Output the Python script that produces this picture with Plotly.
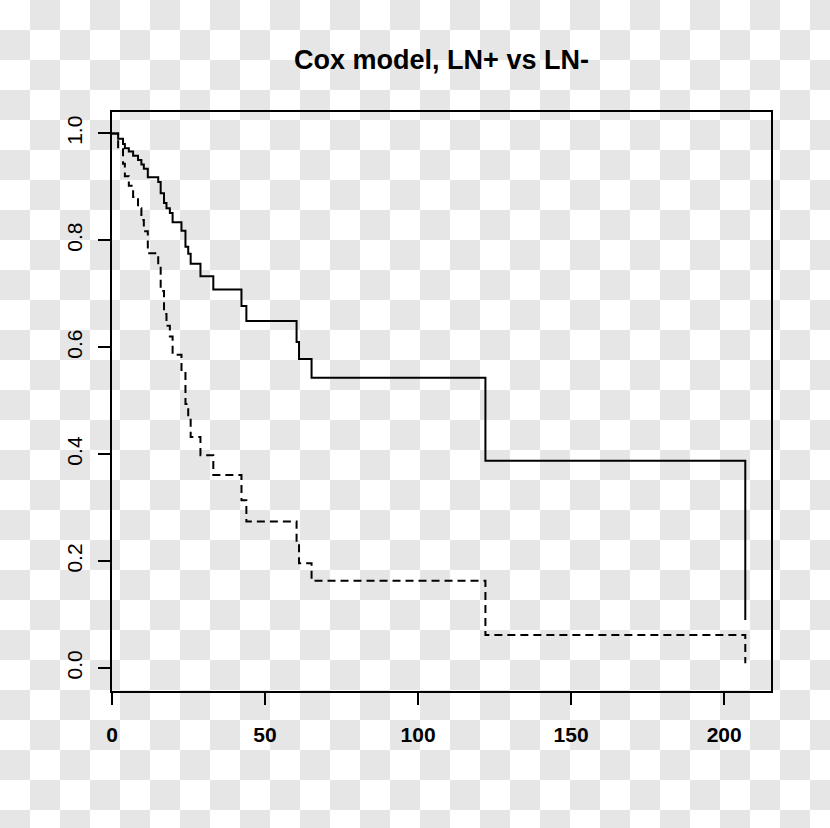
import base64
import plotly.graph_objects as go

# ---- data ----
event_times = [2.0, 3.6, 4.2, 5.5, 6.9, 8.5, 9.6, 10.4, 11.7, 15.1, 15.9, 17.0, 17.8, 18.9,
               19.8, 22.7, 24.0, 24.9, 25.7, 28.9, 33.1, 42.3, 43.9, 60.3, 61.1, 65.2,
               122.0, 206.9]
surv_solid = [0.99, 0.98, 0.972, 0.966, 0.958, 0.95, 0.942, 0.934, 0.918, 0.909, 0.888,
              0.870, 0.860, 0.851, 0.834, 0.818, 0.788, 0.775, 0.756, 0.733, 0.708, 0.677,
              0.649, 0.610, 0.578, 0.543, 0.3875, 0.0897]
surv_dashed = [0.972, 0.943, 0.92, 0.902, 0.881, 0.86, 0.838, 0.817, 0.776, 0.755, 0.705,
               0.662, 0.64, 0.62, 0.586, 0.555, 0.494, 0.47, 0.432, 0.398, 0.361, 0.314,
               0.274, 0.233, 0.196, 0.163, 0.0617, 0.0088]
x_ticks = [0, 50, 100, 150, 200]
y_ticks = [0.0, 0.2, 0.4, 0.6, 0.8, 1.0]
y_tick_labels = ["0.0", "0.2", "0.4", "0.6", "0.8", "1.0"]
title_text = "Cox model, LN+ vs LN-"

W, H = 830, 828
L, R, T, B = 112, 59, 112, 137
pw, ph = W - L - R, H - T - B

fig = go.Figure()
fig.add_trace(go.Scatter(x=[0] + event_times, y=[1.0] + surv_solid, mode="lines",
                         line=dict(color="black", width=2, shape="hv"),
                         name="LN-", showlegend=False))
fig.add_trace(go.Scatter(x=[0] + event_times, y=[1.0] + surv_dashed, mode="lines",
                         line=dict(color="black", width=2, shape="hv", dash="8px,5px"),
                         name="LN+", showlegend=False))

# checkerboard background (transparent-PNG look)
svg = ("<svg xmlns='http://www.w3.org/2000/svg' width='830' height='828'>"
       "<defs><pattern id='p' width='60' height='60' patternUnits='userSpaceOnUse'>"
       "<rect width='60' height='60' fill='#ffffff'/>"
       "<rect x='30' y='0' width='30' height='30' fill='#e6e6e6'/>"
       "<rect x='0' y='30' width='30' height='30' fill='#e6e6e6'/>"
       "</pattern></defs><rect width='830' height='828' fill='url(#p)'/></svg>")
uri = "data:image/svg+xml;base64," + base64.b64encode(svg.encode()).decode()

fig.update_layout(
    width=W, height=H,
    margin=dict(l=L, r=R, t=T, b=B),
    paper_bgcolor="white", plot_bgcolor="rgba(0,0,0,0)",
    images=[dict(source=uri, xref="paper", yref="paper",
                 x=-L / pw, y=1 + T / ph, sizex=W / pw, sizey=H / ph,
                 xanchor="left", yanchor="top", sizing="stretch", layer="below")],
    title=dict(text=title_text, x=(L + pw / 2) / W,
               xanchor="center", y=1 - 60 / H, yanchor="middle",
               font=dict(family="Liberation Sans, Arial", size=27, color="black", weight="bold")),
    xaxis=dict(range=[0, 215.3], tickmode="array", tickvals=x_ticks,
               showgrid=False, zeroline=False, showline=True, mirror=True,
               linecolor="black", linewidth=2, ticks="outside", ticklen=12, tickwidth=2,
               tickcolor="black", ticklabelstandoff=12,
               tickfont=dict(family="Liberation Sans, Arial", size=21, color="black", weight="bold")),
    yaxis=dict(range=[-0.043, 1.04], tickmode="array", tickvals=y_ticks, ticktext=y_tick_labels,
               showgrid=False, zeroline=False, showline=True, mirror=True,
               linecolor="black", linewidth=2, ticks="outside", ticklen=12, tickwidth=2,
               tickcolor="black", tickangle=-90, ticklabelstandoff=8,
               tickfont=dict(family="Liberation Sans, Arial", size=21, color="black")),
)

fig.write_html("out.html")
